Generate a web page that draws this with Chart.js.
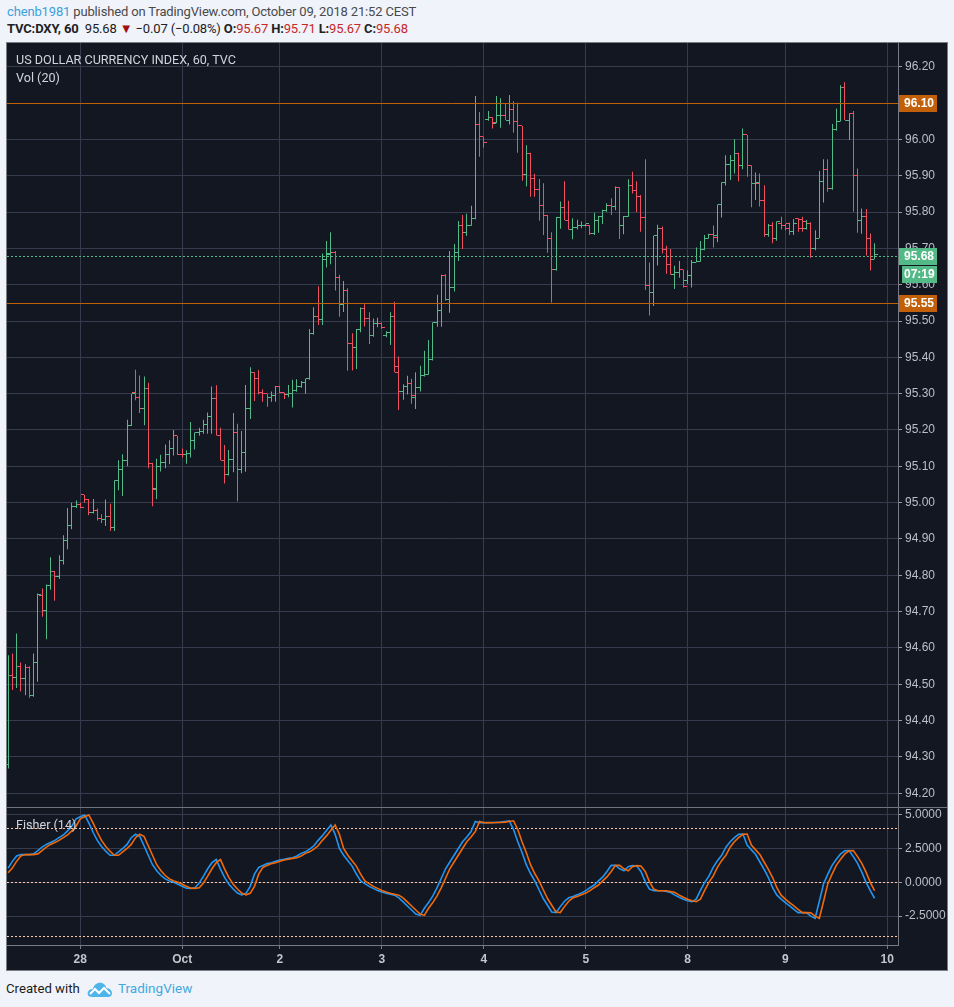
<!DOCTYPE html>
<html><head><meta charset="utf-8">
<script src="https://cdn.jsdelivr.net/npm/chart.js@4.4.0/dist/chart.umd.min.js"></script>
<style>
html,body{margin:0;padding:0;background:#f0f3fa;width:954px;height:1007px;overflow:hidden;font-family:Roboto,"Liberation Sans",sans-serif}
#frame{position:absolute;left:6px;top:42px;width:940px;height:927px;border:1px solid #7a7d86;background:#131722}
#wrapA{position:absolute;left:0;top:0;width:940px;height:764px}
#sep{position:absolute;left:0;top:764px;width:940px;height:1px;background:#70737d}
#wrapB{position:absolute;left:0;top:765px;width:940px;height:162px}
canvas{display:block}
.pt{position:absolute;color:#d1d4dc;font:12.6px Roboto,sans-serif;line-height:16px;white-space:nowrap}
.hd{position:absolute;left:7px;font:13px Roboto,sans-serif;letter-spacing:-0.15px;line-height:18px;white-space:nowrap}
.r{color:#c62828}
</style>
</head><body>
<div class="hd" style="top:3px;color:#4a4a4a"><span style="color:#3ba0dc">chenb1981</span> published on TradingView.com, October 09, 2018 21:52 CEST</div>
<div class="hd" style="top:20px;color:#222"><b>TVC:DXY, 60</b>&nbsp; 95.68 <span style="color:#a30d0d">▼</span> −0.07 (−0.08%) <b>O:</b><span class="r">95.67</span> <b>H:</b><span class="r">95.71</span> <b>L:</b><span class="r">95.67</span> <b>C:</b><span class="r">95.68</span></div>
<div id="frame">
  <div id="wrapA"><canvas id="cA" width="940" height="764"></canvas></div>
  <div id="sep"></div>
  <div id="wrapB"><canvas id="cB" width="940" height="162"></canvas></div>
  <div class="pt" style="left:9px;top:9px">US DOLLAR CURRENCY INDEX, 60, TVC</div>
  <div class="pt" style="left:9px;top:27px">Vol (20)</div>
  <div class="pt" style="left:9px;top:774px">Fisher (14)</div>
</div>
<div style="position:absolute;left:6px;top:981px;font:13.2px Roboto,sans-serif;color:#1b1b1b;white-space:nowrap">Created with</div>
<svg style="position:absolute;left:87px;top:981px" width="26" height="17" viewBox="0 0 26 17">
  <path d="M5 16 C1 16 0 13 1 11 C2 8 5 8 6 8 C7 3 11 1 15 2 C18 3 19 5 19 7 C23 7 25 10 25 12 C25 15 23 16 21 16 Z" fill="#4fb5e8"/>
  <path d="M3 13 L8 8 L12 12 L17 7 L23 13" stroke="#ffffff" stroke-width="2" fill="none"/>
</svg>
<div style="position:absolute;left:118px;top:980px;font:13.5px Roboto,sans-serif;color:#3fa9e0;white-space:nowrap">TradingView</div>
<script>
// ---------- DATA ----------
const dayIndex  = [17, 41, 64, 88, 112, 136, 160, 183, 207];
const dayLabels = ['28', 'Oct', '2', '3', '4', '5', '8', '9', '10'];
const priceTicks = [94.2,94.3,94.4,94.5,94.6,94.7,94.8,94.9,95.0,95.1,95.2,95.3,95.4,95.5,95.6,95.7,95.8,95.9,96.0,96.1,96.2];
const fisherTicks = [5, 2.5, 0, -2.5];
const fisherLevels = [4, 0, -4];
const hLines = [96.10, 95.55];
const lastPrice = 95.68;
const countdown = '07:19';

const opens = [
94.28,94.525,94.52,94.55,94.515,94.545,94.47,94.56,94.745,94.704,
94.773,94.81,94.797,94.84,94.895,94.938,94.99,94.995,95.022,95.01,
94.974,94.979,94.956,94.953,94.962,94.931,95.062,95.09,95.117,95.212,
95.303,95.289,95.259,95.314,95.107,95.039,95.10,95.11,95.133,95.149,
95.184,95.133,95.132,95.135,95.171,95.193,95.196,95.216,95.236,95.288,
95.185,95.117,95.078,95.12,95.194,95.09,95.139,95.26,95.359,95.342,
95.303,95.30,95.29,95.294,95.321,95.303,95.297,95.30,95.31,95.32,
95.33,95.342,95.466,95.513,95.505,95.67,95.686,95.689,95.62,95.546,
95.584,95.437,95.426,95.477,95.535,95.507,95.459,95.494,95.494,95.46,
95.469,95.513,95.374,95.305,95.319,95.329,95.289,95.317,95.35,95.352,
95.395,95.496,95.53,95.625,95.56,95.593,95.689,95.763,95.744,95.763,
95.783,96.042,96.007,96.055,96.061,96.044,96.067,96.067,96.053,96.083,
96.049,96.037,95.904,95.961,95.893,95.863,95.818,95.79,95.728,95.643,
95.786,95.813,95.778,95.752,95.758,95.762,95.762,95.764,95.741,95.778,
95.787,95.803,95.818,95.815,95.868,95.762,95.789,95.874,95.858,95.842,
95.785,95.599,95.579,95.735,95.755,95.696,95.656,95.627,95.634,95.642,
95.611,95.624,95.662,95.665,95.696,95.728,95.737,95.734,95.821,95.882,
95.931,95.943,95.961,95.929,96.012,95.929,95.879,95.879,95.833,95.737,
95.764,95.728,95.767,95.764,95.769,95.745,95.783,95.78,95.755,95.767,
95.70,95.728,95.885,95.917,95.865,96.028,96.049,96.142,96.053,96.072,
95.901,95.776,95.787,95.728,95.67];
const highs = [
94.58,94.585,94.64,94.56,94.555,94.55,94.585,94.75,94.764,94.775,
94.85,94.812,94.855,94.91,94.985,95.0,95.006,95.0,95.022,95.01,
95.01,94.984,94.968,95.009,94.997,95.062,95.117,95.133,95.228,95.30,
95.366,95.35,95.347,95.33,95.11,95.121,95.132,95.16,95.172,95.20,
95.184,95.149,95.144,95.222,95.193,95.206,95.228,95.248,95.32,95.323,
95.206,95.159,95.145,95.247,95.217,95.197,95.324,95.373,95.359,95.365,
95.312,95.30,95.306,95.321,95.321,95.303,95.324,95.338,95.34,95.335,
95.342,95.478,95.538,95.596,95.686,95.72,95.744,95.693,95.627,95.61,
95.59,95.466,95.478,95.537,95.546,95.524,95.507,95.509,95.496,95.472,
95.524,95.553,95.402,95.326,95.349,95.341,95.359,95.377,95.418,95.448,
95.496,95.572,95.627,95.629,95.693,95.712,95.775,95.792,95.795,95.817,
96.119,96.075,96.007,96.078,96.061,96.119,96.113,96.098,96.122,96.105,
96.101,96.037,95.984,95.963,95.905,95.891,95.879,95.792,95.744,95.786,
95.829,95.885,95.831,95.783,95.779,95.774,95.767,95.764,95.798,95.789,
95.806,95.824,95.838,95.87,95.868,95.789,95.89,95.911,95.885,95.847,
95.945,95.661,95.735,95.765,95.76,95.707,95.698,95.652,95.665,95.642,
95.64,95.668,95.702,95.72,95.737,95.74,95.763,95.821,95.882,95.956,
95.957,96.0,95.963,96.03,96.012,95.929,95.909,95.906,95.874,95.767,
95.772,95.774,95.787,95.767,95.771,95.781,95.783,95.787,95.778,95.772,
95.75,95.913,95.945,95.945,96.042,96.085,96.149,96.157,96.072,96.078,
95.92,95.81,95.808,95.741,95.714];
const lows = [
94.268,94.484,94.49,94.48,94.47,94.463,94.466,94.507,94.686,94.624,
94.76,94.73,94.79,94.83,94.872,94.927,94.985,94.985,95.0,94.965,
94.97,94.951,94.944,94.936,94.922,94.922,95.034,95.018,95.1,95.211,
95.282,95.247,95.213,95.095,94.99,95.01,95.086,95.095,95.106,95.13,
95.131,95.124,95.107,95.124,95.146,95.184,95.19,95.19,95.19,95.185,
95.117,95.053,95.075,95.084,95.003,95.081,95.085,95.23,95.28,95.298,
95.278,95.264,95.278,95.278,95.301,95.285,95.29,95.262,95.305,95.316,
95.30,95.338,95.462,95.489,95.489,95.647,95.656,95.584,95.512,95.525,
95.363,95.364,95.368,95.469,95.485,95.437,95.457,95.483,95.478,95.455,
95.434,95.359,95.255,95.283,95.298,95.272,95.258,95.306,95.347,95.352,
95.391,95.484,95.484,95.556,95.523,95.581,95.665,95.698,95.734,95.762,
95.78,95.952,95.977,96.051,96.03,96.044,96.032,96.053,96.041,96.018,
95.963,95.886,95.87,95.842,95.842,95.776,95.737,95.688,95.551,95.638,
95.754,95.778,95.752,95.725,95.752,95.755,95.76,95.737,95.737,95.743,
95.767,95.801,95.792,95.805,95.726,95.739,95.787,95.851,95.80,95.746,
95.585,95.515,95.541,95.653,95.686,95.63,95.627,95.588,95.619,95.592,
95.602,95.592,95.662,95.663,95.695,95.727,95.702,95.717,95.785,95.873,
95.888,95.906,95.884,95.918,95.897,95.813,95.833,95.815,95.732,95.732,
95.714,95.721,95.752,95.75,95.737,95.737,95.746,95.746,95.752,95.674,
95.695,95.728,95.826,95.856,95.861,96.024,96.049,96.053,95.998,95.801,
95.743,95.74,95.68,95.639,95.67];
const closes = [
94.525,94.52,94.55,94.515,94.545,94.47,94.56,94.747,94.704,94.773,
94.81,94.797,94.84,94.895,94.938,94.99,94.995,94.988,95.01,94.974,
94.979,94.956,94.953,94.962,94.931,95.062,95.09,95.117,95.212,95.30,
95.289,95.259,95.314,95.107,95.037,95.10,95.11,95.133,95.149,95.184,
95.133,95.132,95.135,95.171,95.193,95.196,95.216,95.236,95.288,95.185,
95.117,95.077,95.12,95.194,95.09,95.139,95.26,95.359,95.342,95.303,
95.30,95.29,95.294,95.321,95.303,95.297,95.30,95.31,95.32,95.33,
95.342,95.466,95.513,95.505,95.67,95.683,95.689,95.62,95.546,95.584,
95.437,95.426,95.477,95.535,95.507,95.459,95.494,95.494,95.482,95.469,
95.513,95.359,95.305,95.319,95.329,95.294,95.317,95.35,95.352,95.395,
95.496,95.53,95.625,95.56,95.593,95.689,95.763,95.744,95.763,95.783,
96.042,96.007,95.992,96.061,96.046,96.067,96.067,96.053,96.083,96.049,
96.037,95.904,95.961,95.893,95.863,95.818,95.79,95.726,95.643,95.786,
95.813,95.778,95.752,95.758,95.762,95.762,95.767,95.741,95.778,95.787,
95.803,95.818,95.815,95.868,95.762,95.789,95.874,95.858,95.842,95.785,
95.599,95.579,95.735,95.755,95.696,95.656,95.627,95.634,95.642,95.595,
95.624,95.662,95.665,95.696,95.728,95.737,95.731,95.821,95.882,95.931,
95.943,95.961,95.929,96.012,95.929,95.879,95.88,95.833,95.737,95.764,
95.728,95.774,95.764,95.755,95.745,95.769,95.755,95.774,95.767,95.70,
95.728,95.885,95.917,95.865,96.028,96.049,96.142,96.053,96.072,95.901,
95.776,95.787,95.728,95.67,95.682];
const fisher = [
1.05,1.55,1.95,2.05,2.05,2.05,2.1,2.35,2.6,2.8,
2.95,3.1,3.3,3.5,3.8,4.15,4.7,4.85,4.98,4.4,
3.7,3.1,2.65,2.3,2.0,2.0,2.25,2.5,2.8,3.3,
3.55,3.4,2.7,2.0,1.3,0.85,0.5,0.25,0.1,0.0,
-0.15,-0.3,-0.44,-0.45,-0.4,-0.05,0.45,1.0,1.45,1.68,
0.98,0.35,-0.15,-0.5,-0.8,-0.93,-0.82,-0.3,0.6,1.1,
1.25,1.38,1.45,1.55,1.65,1.7,1.77,1.82,1.95,2.14,
2.25,2.45,2.7,3.1,3.45,3.85,4.24,3.55,2.5,2.0,
1.6,1.2,0.6,0.1,-0.1,-0.3,-0.45,-0.6,-0.72,-0.81,
-0.88,-0.95,-1.15,-1.45,-1.75,-2.05,-2.35,-2.45,-1.92,-1.5,
-1.0,-0.4,0.3,1.0,1.5,2.0,2.5,3.0,3.35,3.75,
4.5,4.4,4.42,4.4,4.42,4.42,4.45,4.5,4.55,3.9,
3.0,2.2,1.3,0.65,0.1,-0.55,-1.2,-1.7,-2.2,-2.24,
-1.8,-1.4,-1.15,-1.05,-0.93,-0.8,-0.62,-0.4,-0.2,0.1,
0.4,0.8,1.25,1.25,1.0,0.85,1.15,1.23,1.2,0.8,
0.05,-0.5,-0.62,-0.62,-0.62,-0.68,-0.76,-0.95,-1.11,-1.25,
-1.36,-1.43,-1.25,-0.6,0.0,0.45,1.1,1.6,2.0,2.6,
3.0,3.3,3.55,3.57,2.75,2.4,2.05,1.5,0.95,0.35,
-0.4,-0.95,-1.25,-1.5,-1.75,-2.0,-2.24,-2.24,-2.26,-2.5,
-2.66,-1.4,-0.1,0.6,1.25,1.7,2.1,2.33,2.34,1.9,
1.4,0.75,0.0,-0.62,-1.18];
const trigger = [
0.7,1.05,1.55,1.95,2.05,2.05,2.05,2.1,2.35,2.6,
2.8,2.95,3.1,3.3,3.5,3.8,4.15,4.7,4.85,4.98,
4.4,3.7,3.1,2.65,2.3,2.0,2.0,2.25,2.5,2.8,
3.3,3.55,3.4,2.7,2.0,1.3,0.85,0.5,0.25,0.1,
0.0,-0.15,-0.3,-0.44,-0.45,-0.4,-0.05,0.45,1.0,1.45,
1.68,0.98,0.35,-0.15,-0.5,-0.8,-0.93,-0.82,-0.3,0.6,
1.1,1.25,1.38,1.45,1.55,1.65,1.7,1.77,1.82,1.95,
2.14,2.25,2.45,2.7,3.1,3.45,3.85,4.24,3.55,2.5,
2.0,1.6,1.2,0.6,0.1,-0.1,-0.3,-0.45,-0.6,-0.72,
-0.81,-0.88,-0.95,-1.15,-1.45,-1.75,-2.05,-2.35,-2.45,-1.92,
-1.5,-1.0,-0.4,0.3,1.0,1.5,2.0,2.5,3.0,3.35,
3.75,4.5,4.4,4.42,4.4,4.42,4.42,4.45,4.5,4.55,
3.9,3.0,2.2,1.3,0.65,0.1,-0.55,-1.2,-1.7,-2.2,
-2.24,-1.8,-1.4,-1.15,-1.05,-0.93,-0.8,-0.62,-0.4,-0.2,
0.1,0.4,0.8,1.25,1.25,1.0,0.85,1.15,1.23,1.2,
0.8,0.05,-0.5,-0.62,-0.62,-0.62,-0.68,-0.76,-0.95,-1.11,
-1.25,-1.36,-1.43,-1.25,-0.6,0.0,0.45,1.1,1.6,2.0,
2.6,3.0,3.3,3.55,3.57,2.75,2.4,2.05,1.5,0.95,
0.35,-0.4,-0.95,-1.25,-1.5,-1.75,-2.0,-2.24,-2.24,-2.26,
-2.5,-2.66,-1.4,-0.1,0.6,1.25,1.7,2.1,2.33,2.34,
1.9,1.4,0.75,0.0,-0.62];

// ---------- STYLE ----------
const GREEN = '#53b987', RED = '#ef4f5e', GRID = '#363c4e';
const ORANGE = '#c2600a', BLUE = '#2196f3', ORANGE2 = '#f06a0c';
const AXIS_TXT = '#bcbfc7', AXIS_LINE = '#787b86';
const X_MIN = -0.257, X_MAX = 209.52;
const AXIS_FONT = {family: '"Liberation Sans", Arial, sans-serif', size: 12};
const barColor = i => closes[i] >= opens[i] ? GREEN : RED;

const overlayA = {
  id: 'overlayA',
  afterDatasetsUpdate(chart) {
    // snap the library-computed bar centres to pixel centres for crisp 1px wicks
    chart.getDatasetMeta(0).data.forEach(el => { el.x = Math.floor(el.x) + 0.5; });
  },
  beforeDatasetsDraw(chart) {
    const {ctx, chartArea: a, scales: {y}} = chart;
    ctx.save();
    ctx.lineWidth = 1;
    const pl = Math.round(y.getPixelForValue(lastPrice)) + 0.5;
    ctx.strokeStyle = GREEN; ctx.setLineDash([2, 2]);
    ctx.beginPath(); ctx.moveTo(a.left, pl); ctx.lineTo(a.right, pl); ctx.stroke();
    ctx.restore();
  },
  afterDatasetsDraw(chart) {
    const {ctx, chartArea: a, scales: {y}} = chart;
    const els = chart.getDatasetMeta(0).data;
    ctx.save();
    for (let i = 0; i < opens.length; i++) {
      const px = Math.floor(els[i].x);
      const po = Math.round(y.getPixelForValue(opens[i]) - 0.5);
      const pc = Math.round(y.getPixelForValue(closes[i]) - 0.5);
      ctx.fillStyle = barColor(i);
      ctx.fillRect(px - 3, po, 3, 1);
      ctx.fillRect(px + 1, pc, 3, 1);
    }
    ctx.lineWidth = 1;
    ctx.strokeStyle = ORANGE;
    hLines.forEach(v => {
      const py = Math.round(y.getPixelForValue(v)) + 0.5;
      ctx.beginPath(); ctx.moveTo(a.left, py); ctx.lineTo(a.right, py); ctx.stroke();
    });
    ctx.restore();
  },
  afterDraw(chart) {
    const {ctx, chartArea: a, scales: {y}} = chart;
    ctx.save();
    ctx.font = 'bold 12px "Liberation Sans", Arial, sans-serif';
    ctx.textBaseline = 'middle'; ctx.textAlign = 'left';
    const tag = (x0, yc, bg, txt) => {
      const top = Math.round(yc) - 8;
      ctx.fillStyle = bg; ctx.fillRect(x0, top, a.right + 39 - x0, 17);
      ctx.fillStyle = '#ffffff'; ctx.fillText(txt, a.right + 6, top + 9);
    };
    hLines.forEach(v => tag(a.right + 1, y.getPixelForValue(v), ORANGE, v.toFixed(2)));
    const yl = y.getPixelForValue(lastPrice);
    tag(a.right + 1, yl, GREEN, lastPrice.toFixed(2));
    tag(a.right + 4, yl + 18, GREEN, countdown);
    ctx.restore();
  }
};

const levelsB = {
  id: 'levelsB',
  beforeDatasetsDraw(chart) {
    const {ctx, chartArea: a, scales: {y}} = chart;
    ctx.save();
    ctx.strokeStyle = '#ffc9a8'; ctx.lineWidth = 1; ctx.setLineDash([2, 2]);
    fisherLevels.forEach(v => {
      const py = Math.round(y.getPixelForValue(v)) + 0.5;
      ctx.beginPath(); ctx.moveTo(a.left, py); ctx.lineTo(a.right, py); ctx.stroke();
    });
    ctx.restore();
  }
};

Chart.defaults.font.family = '"Liberation Sans", Arial, sans-serif';

new Chart(document.getElementById('cA'), {
  type: 'bar',
  data: {
    datasets: [{
      label: 'DXY high-low',
      data: opens.map((o, i) => ({x: i, y: [lows[i], highs[i]]})),
      backgroundColor: opens.map((o, i) => barColor(i)),
      barThickness: 1, inflateAmount: 0, borderWidth: 0, grouped: false
    }]
  },
  options: {
    responsive: false, animation: false,
    layout: {padding: 0},
    plugins: {legend: {display: false}, tooltip: {enabled: false}},
    scales: {
      x: {
        type: 'linear', min: X_MIN, max: X_MAX, offset: false,
        grid: {color: GRID, drawTicks: false, offset: false},
        border: {display: false},
        ticks: {display: false},
        afterBuildTicks: s => { s.ticks = dayIndex.map(v => ({value: v})); },
        afterFit: s => { s.height = 0; s.paddingLeft = 0; s.paddingRight = 0; }
      },
      y: {
        type: 'linear', position: 'right', min: 94.1623, max: 96.2652,
        grid: {color: GRID, tickColor: '#9598a1', tickLength: 4},
        border: {color: AXIS_LINE},
        ticks: {color: AXIS_TXT, font: AXIS_FONT, padding: 3, callback: v => Number(v).toFixed(2)},
        afterBuildTicks: s => { s.ticks = priceTicks.map(v => ({value: v})); },
        afterFit: s => { s.width = 49; s.paddingTop = 0; s.paddingBottom = 0; }
      }
    }
  },
  plugins: [overlayA]
});

new Chart(document.getElementById('cB'), {
  type: 'line',
  data: {
    datasets: [
      {label: 'Fisher', data: fisher.map((v, i) => ({x: i, y: v})), borderColor: BLUE, borderWidth: 1.6, pointRadius: 0, tension: 0, order: 1},
      {label: 'Trigger', data: trigger.map((v, i) => ({x: i, y: v})), borderColor: ORANGE2, borderWidth: 1.6, pointRadius: 0, tension: 0, order: 0}
    ]
  },
  options: {
    responsive: false, animation: false,
    layout: {padding: 0},
    plugins: {legend: {display: false}, tooltip: {enabled: false}},
    scales: {
      x: {
        type: 'linear', min: X_MIN, max: X_MAX,
        grid: {color: GRID, tickColor: AXIS_LINE, tickLength: 4},
        border: {color: AXIS_LINE},
        ticks: {color: '#c3c6cd', font: {family: AXIS_FONT.family, size: 12, weight: 'bold'}, padding: 3, maxRotation: 0, autoSkip: false,
                callback: (v, idx) => dayLabels[idx]},
        afterBuildTicks: s => { s.ticks = dayIndex.map(v => ({value: v})); },
        afterFit: s => { s.height = 25; s.paddingLeft = 0; s.paddingRight = 0; }
      },
      y: {
        type: 'linear', position: 'right', min: -4.638, max: 5.495,
        grid: {color: GRID, tickColor: '#9598a1', tickLength: 4},
        border: {color: AXIS_LINE},
        ticks: {color: AXIS_TXT, font: AXIS_FONT, padding: 3, callback: v => Number(v).toFixed(4)},
        afterBuildTicks: s => { s.ticks = fisherTicks.map(v => ({value: v})); },
        afterFit: s => { s.width = 49; s.paddingTop = 0; s.paddingBottom = 0; }
      }
    }
  },
  plugins: [levelsB]
});
</script>
</body></html>
